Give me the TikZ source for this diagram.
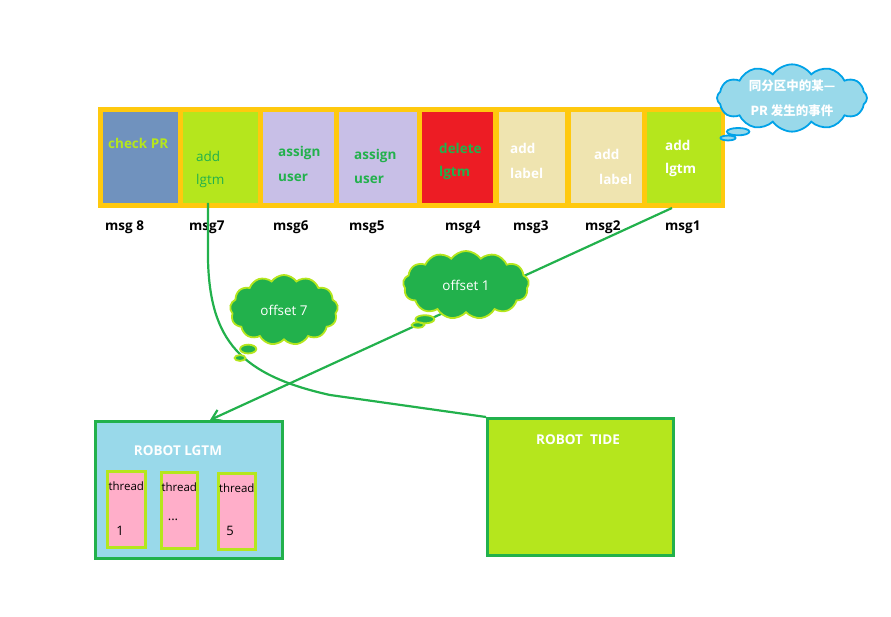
\documentclass[tikz,border=0pt]{standalone}
\usepackage{fontspec}
\setmainfont{Open Sans}
\newfontfamily\cjk{Noto Sans CJK SC}
\usetikzlibrary{shapes.callouts,shapes.symbols,arrows.meta}
\definecolor{gold}{HTML}{FFC90E}
\definecolor{steel}{HTML}{7092BE}
\definecolor{lime}{HTML}{B5E61D}
\definecolor{lavender}{HTML}{C8BFE7}
\definecolor{alarm}{HTML}{ED1C24}
\definecolor{cream}{HTML}{EFE4B0}
\definecolor{grass}{HTML}{22B14C}
\definecolor{sky}{HTML}{99D9EA}
\definecolor{azure}{HTML}{00A2E8}
\definecolor{rose}{HTML}{FFAEC9}
\tikzset{
  cell/.style={rectangle, inner sep=0, anchor=north west},
  txt/.style={inner sep=0, anchor=west, font=\fontsize{13.5}{16}\selectfont\bfseries},
  msg/.style={inner sep=0, anchor=west, font=\fontsize{13.5}{16}\selectfont\bfseries, text=black},
  bubble/.style={cloud callout, cloud puffs=13, cloud puff arc=110, draw=lime, line width=1.8pt,
    fill=grass, text=white, font=\fontsize{13.5}{16}\selectfont, inner sep=0},
  robot/.style={rectangle, draw=grass, line width=2.5pt, anchor=north west, inner sep=0},
  thread/.style={rectangle, draw=lime, line width=2.5pt, fill=rose, anchor=north west, inner sep=0}
}
\begin{document}
\begin{tikzpicture}[x=1pt,y=-1pt]
\useasboundingbox (0,0) rectangle (891,617);
% Queue frame
\fill[gold] (98,107) rectangle (725,208);
\node[cell, fill=steel, minimum width=75, minimum height=91] (c8) at (103,112) {};
\node[cell, fill=lime, minimum width=75, minimum height=91] (c7) at (183,112) {};
\node[cell, fill=lavender, minimum width=71, minimum height=91] (c6) at (263,112) {};
\node[cell, fill=lavender, minimum width=78, minimum height=91] (c5) at (339,112) {};
\node[cell, fill=alarm, minimum width=71, minimum height=91] (c4) at (422,112) {};
\node[cell, fill=cream, minimum width=66, minimum height=91] (c3) at (499,112) {};
\node[cell, fill=cream, minimum width=71, minimum height=91] (c2) at (571,112) {};
\node[cell, fill=lime, minimum width=74, minimum height=91] (c1) at (647,112) {};
% Cell texts
\node[txt, text=lime] (t8) at (108,143) {check PR};
\node[txt, text=grass, font=\fontsize{13.5}{16}\selectfont] (t7a) at (196,156) {add};
\node[txt, text=grass, font=\fontsize{13.5}{16}\selectfont] (t7b) at (196,181) {lgtm};
\node[txt, text=grass] (t6a) at (278,153) {assign};
\node[txt, text=grass] (t6b) at (278,178) {user};
\node[txt, text=grass] (t5a) at (354,156) {assign};
\node[txt, text=grass] (t5b) at (354,180) {user};
\node[txt, text=grass] (t4a) at (439,148) {delete};
\node[txt, text=grass] (t4b) at (439,173) {lgtm};
\node[txt, text=white] (t3a) at (510,148) {add};
\node[txt, text=white] (t3b) at (510,173) {label};
\node[txt, text=white] (t2a) at (594,154) {add};
\node[txt, text=white] (t2b) at (599,179) {label};
\node[txt, text=white] (t1a) at (665,145) {add};
\node[txt, text=white] (t1b) at (665,170) {lgtm};
% Message labels
\node[msg] (m8) at (105,227) {msg 8};
\node[msg] (m7) at (189,227) {msg7};
\node[msg] (m6) at (273,227) {msg6};
\node[msg] (m5) at (349,227) {msg5};
\node[msg] (m4) at (445,227) {msg4};
\node[msg] (m3) at (513,227) {msg3};
\node[msg] (m2) at (585,227) {msg2};
\node[msg] (m1) at (665,227) {msg1};
% Note cloud
\node[cloud callout, cloud puffs=12, cloud puff arc=110, aspect=2.4, draw=azure, line width=1.8pt,
  fill=sky, text=white, inner sep=0, minimum width=150, minimum height=62,
  callout absolute pointer={(728,138)}, align=center,
  font=\cjk\fontsize{12.5}{25}\selectfont\bfseries] (note) at (792,98)
  {同分区中的某—\\PR 发生的事件};
% Robots
\node[robot, fill=sky, minimum width=187, minimum height=137] (lgtm) at (94,420) {};
\node[font=\fontsize{13.5}{16}\selectfont\bfseries, text=white] (lgtmt) at (178,451) {ROBOT LGTM};
\node[thread, minimum width=38, minimum height=76] (th1) at (106,470) {};
\node[thread, minimum width=36, minimum height=76] (th2) at (160,471) {};
\node[thread, minimum width=37, minimum height=76] (th3) at (217,472) {};
\foreach \n in {1,2,3}
  \node[font=\fontsize{11.5}{13}\selectfont, inner sep=0] at ([yshift=-16]th\n.north) {thread};
\node[font=\fontsize{13}{15}\selectfont, inner sep=0] (n1) at (120,531) {1};
\node[font=\fontsize{13}{15}\selectfont, inner sep=0] (n2) at (173,520) {...};
\node[font=\fontsize{13}{15}\selectfont, inner sep=0] (n3) at (230,531) {5};
\node[robot, fill=lime, minimum width=186, minimum height=137] (tide) at (486,417) {};
\node[font=\fontsize{13.5}{16}\selectfont\bfseries, text=white] (tidet) at (578,440) {ROBOT\ \ TIDE};
% Connectors
\coordinate (s7) at (208,203);
\coordinate (s1) at (672,208);
\draw[grass, line width=2.2pt] (s7) -- (208,260) .. controls (210,340) and (240,375) .. (330,395) -- (tide.north west);
\draw[grass, line width=2.2pt, -{Straight Barb[length=9pt,width=12pt]}] (s1) -- (lgtm.north west -| 210,0);
% Offset clouds
\node[bubble, aspect=1.6, minimum width=108, minimum height=70, callout absolute pointer={(240,358)}] (o7) at (284,310) {offset 7};
\node[bubble, aspect=1.9, minimum width=126, minimum height=68, callout absolute pointer={(418,325)}] (o1) at (466,285) {offset 1};
\end{tikzpicture}
\end{document}
